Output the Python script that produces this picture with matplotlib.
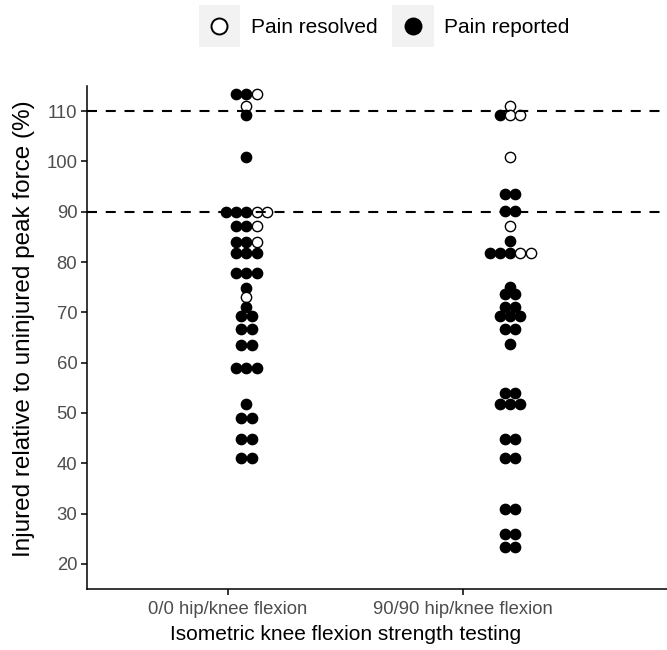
import numpy as np
import matplotlib
matplotlib.use("Agg")
import matplotlib.pyplot as plt
from matplotlib.legend_handler import HandlerBase
from matplotlib.patches import Rectangle
from matplotlib.lines import Line2D

plt.rcParams['font.family'] = ['Liberation Sans', 'DejaVu Sans']

# ---------------- data ----------------
groups = ["0/0 hip/knee flexion", "90/90 hip/knee flexion"]

# dot rows (binned values, %), number of "Pain reported" (filled) and "Pain resolved" (open) dots per row
rows_00 = [113.5, 111.0, 109.3, 100.8, 90.0, 87.2, 84.0, 81.8, 77.8, 74.9, 73.1, 71.1,
           69.2, 66.6, 63.6, 59.0, 51.7, 48.9, 44.9, 41.1]
reported_00 = [2, 0, 1, 1, 3, 2, 2, 3, 3, 1, 0, 1, 2, 2, 2, 3, 1, 2, 2, 2]
resolved_00 = [1, 1, 0, 0, 2, 1, 1, 0, 0, 0, 1, 0, 0, 0, 0, 0, 0, 0, 0, 0]

rows_9090 = [111.0, 109.3, 100.8, 93.6, 90.1, 87.2, 84.1, 81.8, 75.1, 73.7, 71.1, 69.2,
             66.7, 63.7, 53.9, 51.7, 44.9, 41.1, 30.9, 26.0, 23.4]
reported_9090 = [0, 1, 0, 2, 2, 0, 1, 3, 1, 2, 2, 3, 2, 1, 2, 3, 2, 2, 2, 2, 2]
resolved_9090 = [1, 2, 1, 0, 0, 1, 0, 2, 0, 0, 0, 0, 0, 0, 0, 0, 0, 0, 0, 0, 0]

thresholds = [90, 110]
legend_labels = ["Pain resolved", "Pain reported"]

# ---------------- layout / style ----------------
W, H = 667, 650
fig = plt.figure(figsize=(W / 100, H / 100), dpi=100)
ax_left, ax_right, ax_top, ax_bottom = 87, 667, 86, 589
ax = fig.add_axes([ax_left / W, 1 - ax_bottom / H, (ax_right - ax_left) / W, (ax_bottom - ax_top) / H])

xlim = (0.4, 2.867)
ylim = (15, 115)
ax.set_xlim(*xlim)
ax.set_ylim(*ylim)

group_nudge = [0.078, 0.2]
dot_px = 10.3
px_per_x = (ax_right - ax_left) / (xlim[1] - xlim[0])
dx = dot_px / px_per_x
ms = dot_px * 0.72

all_rows = [(rows_00, reported_00, resolved_00), (rows_9090, reported_9090, resolved_9090)]
for gi, (rows, rep, res) in enumerate(all_rows):
    center = gi + 1 + group_nudge[gi]
    for v, nr, no in zip(rows, rep, res):
        n = nr + no
        offs = (np.arange(n) - (n - 1) / 2) * dx
        for k, o in enumerate(offs):
            filled = k < nr
            ax.plot(center + o, v, marker='o', linestyle='none', ms=ms,
                    mfc='black' if filled else 'white', mec='black', mew=1.0, zorder=3)

lw = 1.5
for t in thresholds:
    ax.axhline(t, color='black', lw=lw, dashes=(7.2 / lw, 6.3 / lw), zorder=4)

# axes styling (classic)
for s in ['top', 'right']:
    ax.spines[s].set_visible(False)
for s in ['left', 'bottom']:
    ax.spines[s].set_linewidth(1.1)
ax.set_xticks([1, 2])
ax.set_xticklabels(groups)
ax.set_yticks(np.arange(20, 111, 10))
ax.tick_params(axis='both', labelsize=13.3, labelcolor='#4D4D4D', color='black',
               length=4, width=1.1)
ax.tick_params(axis='x', pad=5)
ax.tick_params(axis='y', pad=3)
ax.set_ylabel("Injured relative to uninjured peak force (%)", fontsize=17.5, color='black')
ax.yaxis.set_label_coords((35 - ax_left) / (ax_right - ax_left), (ax_bottom - 328.5) / (ax_bottom - ax_top))
ax.set_xlabel("Isometric knee flexion strength testing", fontsize=15, color='black')
ax.xaxis.set_label_coords((346 - ax_left) / (ax_right - ax_left), -0.072)


class KeyHandler(HandlerBase):
    def __init__(self, filled):
        super().__init__()
        self.filled = filled

    def create_artists(self, legend, orig_handle, xdescent, ydescent, width, height, fontsize, trans):
        cy = height / 2 - ydescent
        rect = Rectangle((-xdescent, cy - width / 2), width, width,
                         facecolor='#F2F2F2', edgecolor='none', transform=trans)
        ln = Line2D([width / 2 - xdescent], [cy], marker='o', linestyle='none',
                    ms=11.5, mfc='black' if self.filled else 'white', mec='black', mew=1.4,
                    transform=trans)
        return [rect, ln]


h_open = Line2D([], [], marker='o')
h_fill = Line2D([], [], marker='o', color='k')
fig.legend([h_open, h_fill], legend_labels,
           handler_map={h_open: KeyHandler(False), h_fill: KeyHandler(True)},
           loc='center', bbox_to_anchor=(384 / W, 1 - 27 / H), ncol=2, frameon=False,
           fontsize=15, handlelength=2.0, handleheight=1.0, handletextpad=0.5,
           columnspacing=0.7, borderpad=0)

fig.savefig("out.png", dpi=100)
